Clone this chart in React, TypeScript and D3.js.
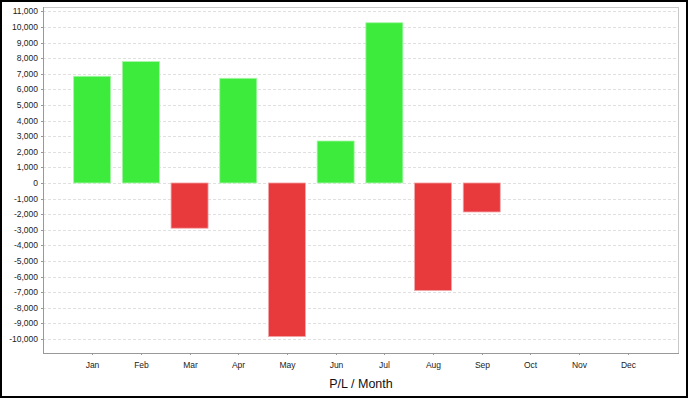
import React from "react";
import * as d3 from "d3";

const months = ["Jan", "Feb", "Mar", "Apr", "May", "Jun", "Jul", "Aug", "Sep", "Oct", "Nov", "Dec"];
const profitLoss: (number | null)[] = [6840, 7780, -2900, 6710, -9850, 2690, 10270, -6900, -1860, null, null, null];
const yTicks = [11000, 10000, 9000, 8000, 7000, 6000, 5000, 4000, 3000, 2000, 1000, 0,
    -1000, -2000, -3000, -4000, -5000, -6000, -7000, -8000, -9000, -10000];
const axisTitle = "P/L / Month";

const W = 688;
const H = 398;
const margin = { top: 7, right: 9, bottom: 45, left: 43 };
const GREEN = "#3deb3d";
const RED = "#e8393d";

export default function App() {
    const innerW = W - margin.left - margin.right;
    const innerH = H - margin.top - margin.bottom;

    const x = d3.scaleBand<string>()
        .domain(months)
        .range([-1, innerW - 1])
        .paddingInner(0.24)
        .paddingOuter(0.65);

    const y = d3.scaleLinear()
        .domain([-10900, 11280])
        .range([innerH, 0]);

    const fmt = d3.format(",");
    const font = "'Liberation Sans', Arial, sans-serif";

    return (
        <svg width={W} height={H} style={{ position: "absolute", left: 0, top: 0, background: "#fff" }}>
            <rect x={1} y={1} width={W - 2} height={H - 2} fill="#fff" stroke="#000" strokeWidth={2} />
            <g transform={`translate(${margin.left},${margin.top})`}>
                {/* grid */}
                {yTicks.map(t => (
                    <line key={"g" + t} x1={0} x2={innerW} y1={Math.round(y(t)) + 0.5} y2={Math.round(y(t)) + 0.5}
                        stroke="#e0e0e0" strokeDasharray="3 2" />
                ))}
                {/* frame */}
                <line x1={0.5} x2={innerW} y1={0.5} y2={0.5} stroke="#c8c8c8" />
                <line x1={innerW - 0.5} x2={innerW - 0.5} y1={0} y2={innerH} stroke="#c8c8c8" />
                {/* bars */}
                {profitLoss.map((v, i) => {
                    if (v === null) return null;
                    const x0 = x(months[i])!;
                    const y0 = y(Math.max(0, v));
                    const h = Math.abs(y(v) - y(0));
                    return (
                        <rect key={months[i]} x={x0} y={y0} width={x.bandwidth()} height={h}
                            fill={v >= 0 ? GREEN : RED} stroke={v >= 0 ? "#a8f5a8" : "#f2a8aa"} strokeWidth={0.8} />
                    );
                })}
                {/* axes */}
                <line x1={0.5} x2={0.5} y1={0} y2={innerH} stroke="#999" />
                <line x1={0} x2={innerW} y1={innerH + 0.5} y2={innerH + 0.5} stroke="#999" />
                {yTicks.map(t => (
                    <g key={"y" + t} transform={`translate(0,${Math.round(y(t)) + 0.5})`}>
                        <line x1={-2} x2={0} stroke="#999" />
                        <text x={-5} dy="0.34em" textAnchor="end" fontSize={8.5} fontFamily={font} fill="#222">
                            {fmt(t).replace("−", "-")}
                        </text>
                    </g>
                ))}
                {months.map(m => {
                    const cx = Math.round(x(m)! + x.bandwidth() / 2) + 0.5;
                    return (
                        <g key={"x" + m} transform={`translate(${cx},${innerH})`}>
                            <line y1={0} y2={2} stroke="#999" />
                            <text y={15} textAnchor="middle" fontSize={8.5} fontFamily={font} fill="#222">{m}</text>
                        </g>
                    );
                })}
                <text x={innerW / 2} y={innerH + 35} textAnchor="middle" fontSize={12.5} fontFamily={font} fill="#111">
                    {axisTitle}
                </text>
            </g>
        </svg>
    );
}
